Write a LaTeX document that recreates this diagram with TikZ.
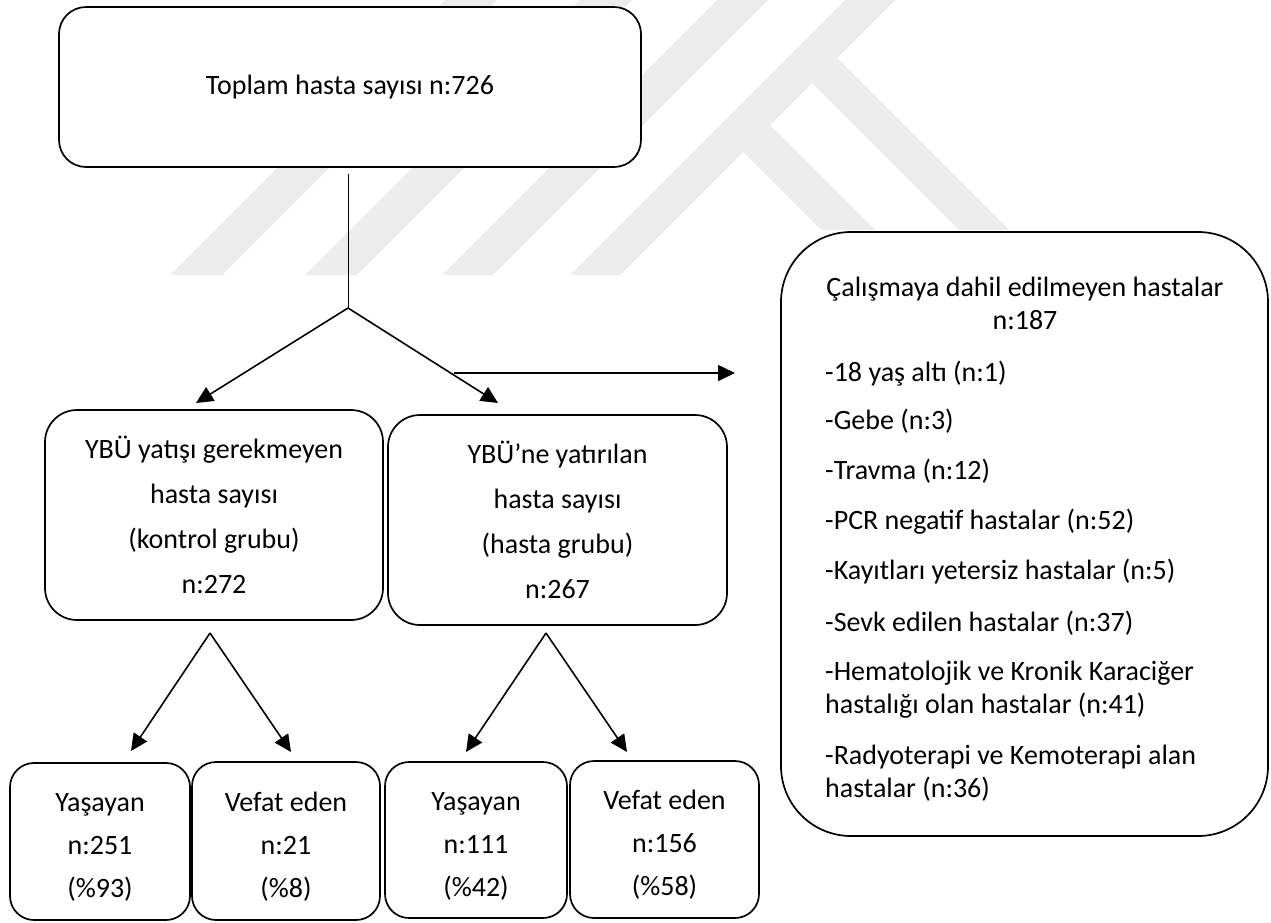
\documentclass[tikz,border=0pt]{standalone}
\usepackage{fontspec}
\setmainfont{Carlito}
\usetikzlibrary{arrows.meta}
\definecolor{wm}{RGB}{236,236,236}
\newcommand{\topstrut}{\rule{0pt}{30pt}}
\begin{document}
\begin{tikzpicture}[x=1pt,y=-1pt,
  box/.style={draw, line width=1.7pt, fill=white, rounded corners=#1, inner sep=0pt, align=center},
  f28/.style={font=\fontsize{28}{#1}\selectfont},
  ltxt/.style={anchor=base west, inner sep=0pt, font=\fontsize{28}{33}\selectfont},
  ctxt/.style={anchor=base, inner sep=0pt, font=\fontsize{28}{33}\selectfont},
  conn/.style={line width=1.6pt, -{Triangle[length=17pt,width=16pt]}},
  plain/.style={line width=1pt},
]
\useasboundingbox (0,0) rectangle (1271,922);
% watermark
\fill[wm] (170,275) -- (222,275) -- (497,0) -- (445,0) -- cycle;
\fill[wm] (305,275) -- (357,275) -- (632,0) -- (580,0) -- cycle;
\fill[wm] (442,275) -- (493,275) -- (768,0) -- (717,0) -- cycle;
\fill[wm] (570,275) -- (620,275) -- (895,0) -- (845,0) -- cycle;
\fill[wm] (743,152) -- (770,125) -- (875,230) -- (821,230) -- cycle;
\fill[wm] (812,83) -- (837,58) -- (1009,230) -- (959,230) -- cycle;

% top box
\node[box=27, minimum width=582, minimum height=160, f28=33] (top) at (350,87) {Toplam hasta sayısı n:726};

% middle boxes
\node[box=32, minimum width=338, minimum height=210, f28=45] (ctrl) at (214,515)
  {YBÜ yatışı gerekmeyen\\hasta sayısı\\(kontrol grubu)\\n:272};
\node[box=32, minimum width=339, minimum height=210, f28=45] (icu) at (557.5,520)
  {YBÜ’ne yatırılan\\hasta sayısı\\(hasta grubu)\\n:267};

% bottom boxes
\node[box=24, minimum width=180, minimum height=157, f28=43] (b1) at (100,841.5) {\topstrut Yaşayan\\n:251\\(\%93)};
\node[box=24, minimum width=188, minimum height=158, f28=43] (b2) at (286,841) {\topstrut Vefat eden\\n:21\\(\%8)};
\node[box=24, minimum width=182, minimum height=156, f28=43] (b3) at (476,840) {\topstrut Yaşayan\\n:111\\(\%42)};
\node[box=24, minimum width=189, minimum height=157, f28=43] (b4) at (664.5,839.5) {\topstrut Vefat eden\\n:156\\(\%58)};

% right box
\node[box=70, minimum width=487, minimum height=604] (ex) at (1024.5,534) {};
\node[ctxt] (exh) at (1025,296) {Çalışmaya dahil edilmeyen hastalar};
\node[ctxt] (exn) at (1025,329) {n:187};
\node[ltxt] (e1) at (825,381) {-18 yaş altı (n:1)};
\node[ltxt] (e2) at (825,429) {-Gebe (n:3)};
\node[ltxt] (e3) at (825,479) {-Travma (n:12)};
\node[ltxt] (e4) at (825,529) {-PCR negatif hastalar (n:52)};
\node[ltxt] (e5) at (825,579) {-Kayıtları yetersiz hastalar (n:5)};
\node[ltxt] (e6) at (825,631) {-Sevk edilen hastalar (n:37)};
\node[ltxt] (e7) at (825,680) {-Hematolojik ve Kronik Karaciğer};
\node[ltxt] (e7b) at (825,713) {hastalığı olan hastalar (n:41)};
\node[ltxt] (e8) at (825,764) {-Radyoterapi ve Kemoterapi alan};
\node[ltxt] (e8b) at (825,797) {hastalar (n:36)};

% connector coordinates
\coordinate (apex) at (348,308);
\coordinate (tl) at (196,403);
\coordinate (tr) at (498,403);
\coordinate (hs) at (454,373);
\coordinate (he) at (735,373);
\coordinate (apl) at (210,633);
\coordinate (t1) at (131,751);
\coordinate (t2) at (291,752);
\coordinate (apr) at (546,633);
\coordinate (t3) at (466,752);
\coordinate (t4) at (627,752);

\draw[plain, shorten <=6pt] (top.south -| apex) -- (apex);
\draw[conn] (apex) -- (tl);
\draw[conn] (apex) -- (tr);
\draw[conn] (hs) -- (he);
\draw[conn] (apl) -- (t1);
\draw[conn] (apl) -- (t2);
\draw[conn] (apr) -- (t3);
\draw[conn] (apr) -- (t4);
\end{tikzpicture}
\end{document}
